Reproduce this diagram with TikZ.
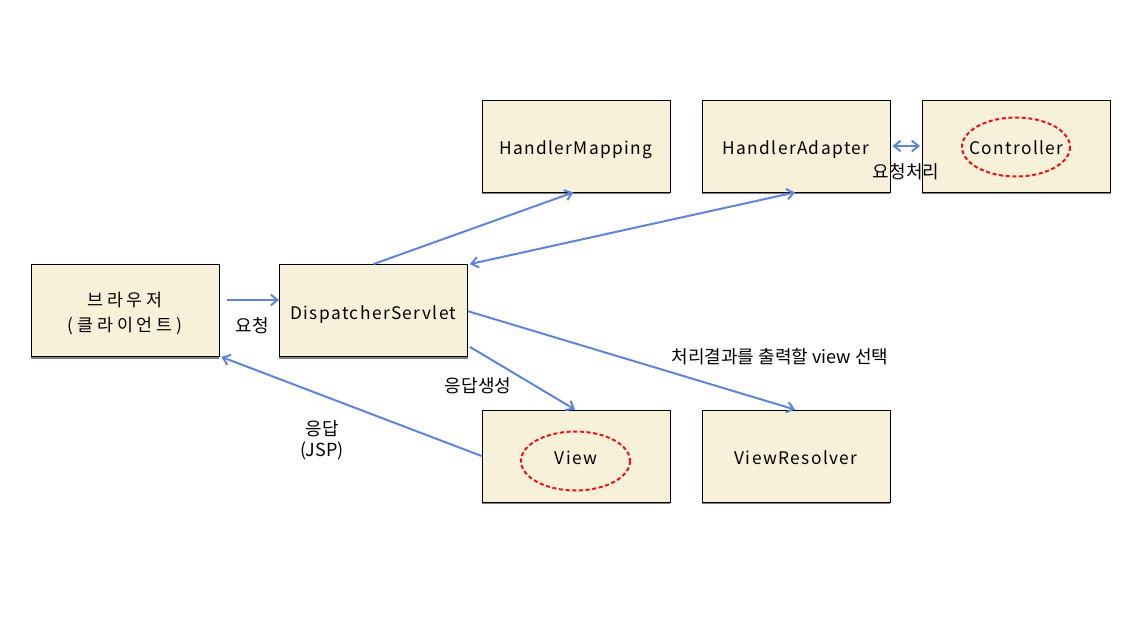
\documentclass[tikz,border=0pt]{standalone}
\usepackage{fontspec}
\setmainfont{Noto Sans CJK KR}
\newfontfamily\boxfont[LetterSpace=8]{Noto Sans CJK KR}
\newfontfamily\widefont[LetterSpace=22]{Noto Sans CJK KR}
\usetikzlibrary{arrows.meta}

\definecolor{boxfill}{HTML}{F8F1DA}
\definecolor{boxshade}{HTML}{7F7F7F}
\definecolor{flowblue}{HTML}{5F84DC}
\definecolor{markred}{HTML}{F01010}

\begin{document}
\begin{tikzpicture}[
  x=0.75pt, y=-0.75pt, font=\fontsize{13}{15}\selectfont,
  box/.style={rectangle, draw=black, line width=0.6pt, fill=boxfill,
              minimum width=141pt, minimum height=69pt, inner sep=0pt,
              align=center, font=\boxfont\fontsize{13}{17}\selectfont},
  one/.style={text height=13.4pt, text depth=0pt},
  flow/.style={draw=flowblue, line width=1.5pt, -{Straight Barb[length=5pt,width=8pt]}},
  both/.style={flow, {Straight Barb[length=5pt,width=8pt]}-{Straight Barb[length=5pt,width=8pt]}},
  lbl/.style={font=\fontsize{13.5}{16}\selectfont, inner sep=1pt, align=center},
  circ/.style={draw=markred, line width=1.5pt, dash pattern=on 3pt off 2pt}]

  \useasboundingbox (0,0) rectangle (1121,621);

  % ---- boxes ------------------------------------------------------------
  \node[box, font=\widefont\fontsize{13}{18}\selectfont] (browser) at (125,310.5)
    {\rule{0pt}{15pt}브라우저\\[1pt](클라이언트)};
  \node[box, one] (disp)   at (373.5,310.5) {DispatcherServlet};
  \node[box, one] (hmap)   at (576,146) {HandlerMapping};
  \node[box, one] (hadapt) at (796,146) {HandlerAdapter};
  \node[box, one] (ctrl)   at (1016.5,146) {Controller};
  \node[box, one] (view)   at (576,456) {View};
  \node[box, one] (vres)   at (796,456) {ViewResolver};

  \foreach \n in {browser,disp,hmap,hadapt,ctrl,view,vres} {
    \draw[boxshade, line width=1.2pt]
      ([yshift=-0.9pt]\n.south west) -- ([yshift=-0.9pt]\n.south east);
  }

  % ---- dashed marks -----------------------------------------------------
  \draw[circ] (1016,147) ellipse [x radius=54, y radius=29.5];
  \draw[circ] (575.5,461) ellipse [x radius=54.5, y radius=29.5];

  % ---- connectors -------------------------------------------------------
  \coordinate (reqstart) at (227,300);
  \draw[flow] (reqstart) -- (reqstart -| disp.west);
  \draw[flow] (disp.north) -- ([xshift=-2pt]hmap.south);
  \draw[both] ([xshift=1.5pt]disp.north east) -- ([xshift=-0.7pt]hadapt.south);
  \draw[both] ([xshift=1.5pt]hadapt.east) -- ([xshift=-1.5pt]ctrl.west);
  \draw[flow] ([yshift=-0.5pt]disp.east) -- ([xshift=-0.7pt]vres.north);
  \draw[flow] ([xshift=1.5pt,yshift=7.5pt]disp.south east) -- ([xshift=-0.7pt]view.north);
  \draw[flow] (view.west) -- ([xshift=1.5pt]browser.south east);

  % ---- labels -----------------------------------------------------------
  \node[lbl] (lreq)   at (252,326) {요청};
  \node[lbl] (lproc)  at (906,172) {요청처리};
  \node[lbl] (lsel)   at (780,357) {처리결과를 출력할 view 선택};
  \node[lbl] (lgen)   at (478,386) {응답생성};
  \node[lbl] (lresp)  at (322,440) {응답\\(JSP)};
\end{tikzpicture}
\end{document}
